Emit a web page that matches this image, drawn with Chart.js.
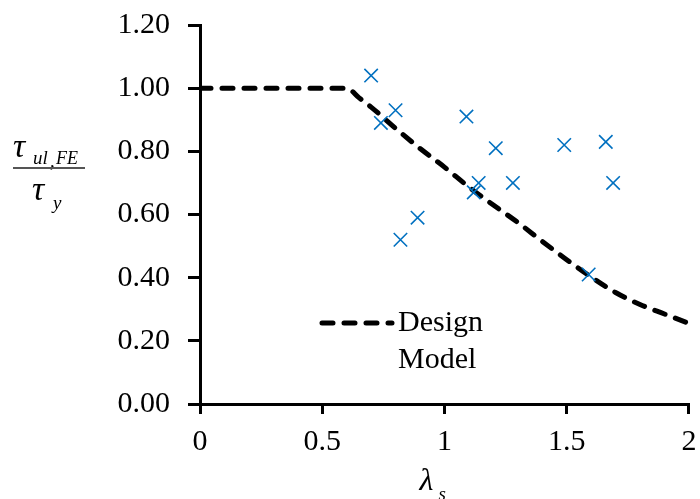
<!DOCTYPE html>
<html>
<head>
<meta charset="utf-8">
<script src="https://cdn.jsdelivr.net/npm/chart.js@4/dist/chart.umd.min.js"></script>
<style>
  html, body { margin: 0; padding: 0; background: #ffffff; }
  #wrap { width: 700px; height: 499px; position: relative; }
</style>
</head>
<body>
<div id="wrap"><canvas id="chart" width="700" height="499"></canvas></div>
<script>
// Design model curve: shear resistance ratio vs. slenderness
const designLambda = [0, 0.6, 0.65, 0.7, 0.8, 0.9, 1.0, 1.1, 1.2, 1.3, 1.4, 1.5, 1.6, 1.7, 1.8, 1.9, 2.0];
const designRatio  = [1.0, 1.0, 0.97, 0.94, 0.873, 0.809, 0.75, 0.687, 0.63, 0.575, 0.515, 0.457, 0.402, 0.353, 0.315, 0.285, 0.255];

// Finite element results
const feLambda = [0.70, 0.80, 0.74, 1.09, 1.21, 1.14, 1.12, 1.28, 0.89, 0.82, 1.49, 1.66, 1.69, 1.59];
const feRatio  = [1.04, 0.93, 0.89, 0.91, 0.81, 0.70, 0.67, 0.70, 0.59, 0.52, 0.82, 0.83, 0.70, 0.41];

// Axis ticks
const xTicks = [0, 0.5, 1, 1.5, 2];
const yTicks = [0, 0.2, 0.4, 0.6, 0.8, 1.0, 1.2];

const SERIF = "'Liberation Serif', 'Times New Roman', serif";
const DASH = [11, 11];

const designPts = designLambda.map((x, i) => ({ x, y: designRatio[i] }));
const fePts = feLambda.map((x, i) => ({ x, y: feRatio[i] }));

// Fixed axis box sizes; label overhang is allowed to spill into the margins
function fixBox(size) {
  return function (scale) {
    if (scale.isHorizontal()) scale.height = size; else scale.width = size;
    scale.paddingTop = 0;
    scale.paddingBottom = 0;
    scale.paddingLeft = 0;
    scale.paddingRight = 0;
  };
}

// Draws the axis titles (fraction on y, lambda_s on x) and the in-plot legend
const annotations = {
  id: 'annotations',
  afterDatasetsDraw(chart) {
    const ctx = chart.ctx;
    const area = chart.chartArea;
    ctx.save();
    ctx.fillStyle = '#000';
    ctx.textBaseline = 'middle';
    ctx.textAlign = 'left';

    // y-axis title: tau_{ul,FE} / tau_y
    ctx.font = 'italic 34px ' + SERIF;
    ctx.fillText('\u03C4', 13, 148);
    ctx.font = 'italic 19px ' + SERIF;
    ctx.fillText('ul', 33, 159);
    ctx.fillText(',', 50, 162);
    ctx.font = 'italic 18px ' + SERIF;
    ctx.fillText('FE', 56, 159);
    ctx.strokeStyle = '#555';
    ctx.lineWidth = 2;
    ctx.beginPath();
    ctx.moveTo(13, 168);
    ctx.lineTo(85, 168);
    ctx.stroke();
    ctx.font = 'italic 34px ' + SERIF;
    ctx.fillText('\u03C4', 32, 191);
    ctx.font = 'italic 19px ' + SERIF;
    ctx.fillText('y', 53, 204);

    // x-axis title: lambda_s
    const xc = chart.scales.x.getPixelForValue(1);
    ctx.font = 'italic 32px ' + SERIF;
    ctx.fillText('\u03BB', xc - 25, 482);
    ctx.font = 'italic 19px ' + SERIF;
    ctx.fillText('s', xc - 6, 495);

    // legend
    const ds = chart.data.datasets[1];
    const lx = area.left + 122, ly = 323;
    ctx.strokeStyle = ds.borderColor;
    ctx.lineWidth = ds.borderWidth;
    ctx.lineCap = 'round';
    ctx.setLineDash(DASH);
    ctx.beginPath();
    ctx.moveTo(lx, ly);
    ctx.lineTo(lx + 70, ly);
    ctx.stroke();
    ctx.setLineDash([]);
    ctx.font = '30px ' + SERIF;
    const words = ds.label.split(' ');
    ctx.fillText(words[0], lx + 76, ly);
    ctx.fillText(words[1], lx + 76, ly + 37);
    ctx.restore();
  }
};

new Chart(document.getElementById('chart'), {
  type: 'scatter',
  data: {
    datasets: [
      {
        label: 'FE',
        data: fePts,
        showLine: false,
        pointStyle: 'crossRot',
        pointRadius: 9.5,
        pointHoverRadius: 9.5,
        borderColor: '#0070C0',
        backgroundColor: '#0070C0',
        pointBorderWidth: 1.6,
        order: 0
      },
      {
        label: 'Design Model',
        data: designPts,
        showLine: true,
        pointRadius: 0,
        borderColor: '#000000',
        borderWidth: 5,
        borderDash: DASH,
        borderCapStyle: 'round',
        cubicInterpolationMode: 'monotone',
        fill: false,
        order: 1
      }
    ]
  },
  options: {
    responsive: false,
    animation: false,
    devicePixelRatio: 1,
    layout: { padding: { top: 25, right: 6, left: 0, bottom: 0 } },
    plugins: {
      legend: { display: false },
      tooltip: { enabled: false }
    },
    scales: {
      x: {
        type: 'linear',
        min: 0,
        max: 2,
        afterBuildTicks(scale) { scale.ticks = xTicks.map(v => ({ value: v })); },
        afterFit: fixBox(95),
        ticks: {
          font: { family: SERIF, size: 30 },
          color: '#000',
          padding: 10,
          maxRotation: 0,
          autoSkip: false,
          callback: v => String(v)
        },
        grid: { drawOnChartArea: false, drawTicks: true, tickLength: 10, color: '#000', lineWidth: 3 },
        border: { display: true, color: '#000', width: 3 }
      },
      y: {
        type: 'linear',
        min: 0,
        max: 1.2,
        afterBuildTicks(scale) { scale.ticks = yTicks.map(v => ({ value: v })); },
        afterFit: fixBox(200),
        ticks: {
          font: { family: SERIF, size: 30 },
          color: '#000',
          padding: 18,
          autoSkip: false,
          callback: v => Number(v).toFixed(2)
        },
        grid: { drawOnChartArea: false, drawTicks: true, tickLength: 12, color: '#000', lineWidth: 3 },
        border: { display: true, color: '#000', width: 3 }
      }
    }
  },
  plugins: [annotations]
});
</script>
</body>
</html>
